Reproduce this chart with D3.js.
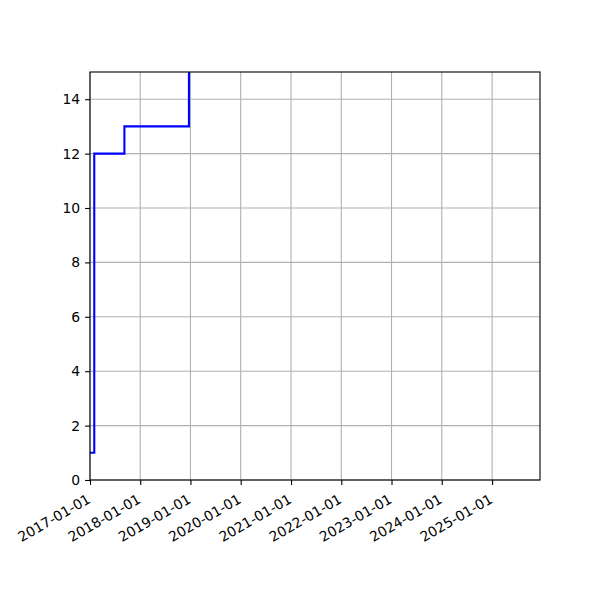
<!DOCTYPE html>
<html>
  <head>
    <meta charset="utf-8">
    <script src="https://d3js.org/d3.v7.min.js"></script>
    <style>
      body { margin: 0; background: #fff; }
      text { font-family: "DejaVu Sans", sans-serif; font-size: 13.9px; fill: #000; }
      .grid line { stroke: #b0b0b0; stroke-width: 1.1px; }
    </style>
  </head>
  <body>
    <svg id="chart" width="600" height="600"></svg>
    <script>
      // data (step "post": value holds until next date)
      stepDates = ["2017-01-01", "2017-02-01", "2017-09-08", "2018-12-21", "2025-12-15"];
      stepValues = [1, 12, 13, 16, 16];
      yTicks = [0, 2, 4, 6, 8, 10, 12, 14];
      xTickYears = [2017, 2018, 2019, 2020, 2021, 2022, 2023, 2024, 2025];

      parse = d3.timeParse("%Y-%m-%d");
      data = stepDates.map(function(d, i) {
        return { date: parse(d), value: stepValues[i] };
      });

      margin = { top: 72, right: 60, bottom: 120, left: 90 };
      width = 600;
      height = 600;

      x = d3.scaleTime()
        .domain([parse("2017-01-01"), parse("2025-12-15")])
        .range([margin.left, width - margin.right]);
      y = d3.scaleLinear()
        .domain([0, 15])
        .range([height - margin.bottom, margin.top]);

      xTicks = xTickYears.map(function(yr) { return new Date(yr, 0, 1); });

      chart = d3.select("#chart");

      // grid
      grid = chart.append("g").classed("grid", true);
      grid.selectAll(".gx")
        .data(xTicks)
        .enter().append("line")
          .attr("x1", function(d) { return x(d); })
          .attr("x2", function(d) { return x(d); })
          .attr("y1", margin.top)
          .attr("y2", height - margin.bottom);
      grid.selectAll(".gy")
        .data(yTicks)
        .enter().append("line")
          .attr("x1", margin.left)
          .attr("x2", width - margin.right)
          .attr("y1", function(d) { return y(d); })
          .attr("y2", function(d) { return y(d); });

      // step line
      chart.append("clipPath").attr("id", "clip")
        .append("rect")
          .attr("x", margin.left)
          .attr("y", margin.top)
          .attr("width", width - margin.left - margin.right)
          .attr("height", height - margin.top - margin.bottom);
      line = d3.line()
        .curve(d3.curveStepAfter)
        .x(function(d) { return x(d.date); })
        .y(function(d) { return y(d.value); });
      chart.append("path")
        .datum(data)
        .attr("clip-path", "url(#clip)")
        .attr("fill", "none")
        .attr("stroke", "#0000ff")
        .attr("stroke-width", 2.1)
        .attr("d", line);

      // axes
      xAxis = d3.axisBottom(x)
        .tickValues(xTicks)
        .tickFormat(d3.timeFormat("%Y-%m-%d"))
        .tickSizeInner(4.9)
        .tickSizeOuter(0)
        .tickPadding(4.9);
      yAxis = d3.axisLeft(y)
        .tickValues(yTicks)
        .tickSizeInner(4.9)
        .tickSizeOuter(0)
        .tickPadding(4.9);

      xAxisGroup = chart.append("g")
        .attr("transform", "translate(0," + (height - margin.bottom) + ")")
        .call(xAxis);
      xAxisGroup.selectAll(".tick text")
        .attr("text-anchor", "end")
        .attr("y", 0)
        .attr("dy", 0)
        .attr("transform", "translate(1,22) rotate(-30)");
      yAxisGroup = chart.append("g")
        .attr("transform", "translate(" + margin.left + ",0)")
        .call(yAxis);

      chart.selectAll(".domain").remove();
      chart.selectAll(".tick line").attr("stroke", "#000").attr("stroke-width", 1.1);
      chart.selectAll(".tick text")
        .attr("font-family", "DejaVu Sans, sans-serif")
        .attr("font-size", 13.9)
        .attr("fill", "#000");

      // frame
      chart.append("rect")
        .attr("x", margin.left)
        .attr("y", margin.top)
        .attr("width", width - margin.left - margin.right)
        .attr("height", height - margin.top - margin.bottom)
        .attr("fill", "none")
        .attr("stroke", "#000")
        .attr("stroke-width", 1.1);
    </script>
  </body>
</html>
